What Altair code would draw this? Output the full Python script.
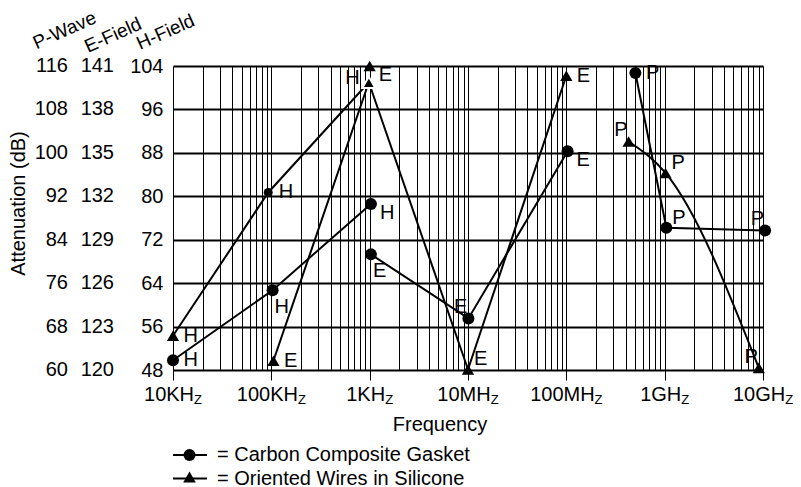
import altair as alt
import pandas as pd

CARBON = "Carbon Composite Gasket"
WIRES = "Oriented Wires in Silicone"

# ---- data (frequency in Hz, attenuation read on the H-Field scale, dB) ----
carbon_h_f = [1.0e4, 1.03e5, 1.03e6]
carbon_h_v = [49.8, 62.7, 78.6]
carbon_e_f = [1.03e6, 1.01e7, 1.03e8]
carbon_e_v = [69.3, 57.5, 88.3]
carbon_p_f = [5.04e8, 1.04e9, 1.05e10]
carbon_p_v = [102.7, 74.2, 73.7]

wires_h_f = [1.0e4, 9.3e4, 9.8e5]
wires_h_v = [54.3, 80.7, 101.0]
wires_e_f = [1.05e5, 9.8e5, 1.0e7, 1.0e8]
wires_e_v = [49.7, 101.0, 48.1, 102.2]
wires_e_peak_f = [1.0e6]
wires_e_peak_v = [104.0]
wires_p_f = [4.3e8, 1.02e9, 9.06e9]
wires_p_v = [90.1, 84.3, 48.4]

# marker kind, label letter and label anchor for every point
carbon_h_mk = ["circle", "circle", "circle"]
carbon_h_lab = ["H", "H", "H"]
carbon_h_anc = ["e", "s", "se"]
carbon_e_mk = ["circle", "circle", "circle"]
carbon_e_lab = ["E", "E", "E"]
carbon_e_anc = ["s", "nw", "se"]
carbon_p_mk = ["circle", "circle", "circle"]
carbon_p_lab = ["P", "P", "P"]
carbon_p_anc = ["e", "ne", "nw"]
wires_h_mk = ["triangle", "dot", "outlined"]
wires_h_lab = ["H", "H", "H"]
wires_h_anc = ["e", "e", "w"]
wires_e_mk = ["triangle", "none", "triangle", "triangle"]
wires_e_lab = ["E", "", "E", "E"]
wires_e_anc = ["e", "", "ne", "e"]
wires_e_peak_mk = ["triangle"]
wires_e_peak_lab = ["E"]
wires_e_peak_anc = ["se"]
wires_p_mk = ["triangle", "triangle", "triangle"]
wires_p_lab = ["P", "P", "P"]
wires_p_anc = ["nw", "ne", "nw"]

# axis tick labels
h_ticks = [48, 56, 64, 72, 80, 88, 96, 104]
e_ticks = [120, 123, 126, 129, 132, 135, 138, 141]
p_ticks = [60, 68, 76, 84, 92, 100, 108, 116]
col_headers = ["P-Wave", "E-Field", "H-Field"]
decades = [1e4, 1e5, 1e6, 1e7, 1e8, 1e9, 1e10]
dec_main = ["10KH", "100KH", "1KH", "10MH", "100MH", "1GH", "10GH"]
dec_sub = "Z"
legend_items = [CARBON, WIRES]

# ---- layout ----
W, H = 590, 304
FONT = "Liberation Sans"
FS = 20
SUBFS = 13
ppd = W / 6.0

series_list = [
    ("cH", CARBON, carbon_h_f, carbon_h_v, carbon_h_mk, carbon_h_lab, carbon_h_anc, True),
    ("cE", CARBON, carbon_e_f, carbon_e_v, carbon_e_mk, carbon_e_lab, carbon_e_anc, True),
    ("cP", CARBON, carbon_p_f, carbon_p_v, carbon_p_mk, carbon_p_lab, carbon_p_anc, True),
    ("wH", WIRES, wires_h_f, wires_h_v, wires_h_mk, wires_h_lab, wires_h_anc, True),
    ("wE", WIRES, wires_e_f, wires_e_v, wires_e_mk, wires_e_lab, wires_e_anc, True),
    ("wEpk", WIRES, wires_e_peak_f, wires_e_peak_v, wires_e_peak_mk, wires_e_peak_lab, wires_e_peak_anc, False),
    ("wP", WIRES, wires_p_f, wires_p_v, wires_p_mk, wires_p_lab, wires_p_anc, True),
]
rows = []
for grp, ser, fs_, vs_, mks, labs, ancs, is_line in series_list:
    for i, (f, v, mk, lab, anc) in enumerate(zip(fs_, vs_, mks, labs, ancs)):
        rows.append(dict(grp=grp, series=ser, f=f, v=v, mk=mk, lab=lab, anc=anc, ord=i, line=is_line))
pts = pd.DataFrame(rows)

xscale = alt.Scale(type="log", domain=[1e4, 1e10])
yscale = alt.Scale(domain=[48, 104], nice=False, zero=False)

grid_vals = []
for k in range(4, 10):
    for m in range(1, 10):
        grid_vals.append(float(f"{m}e{k}"))
grid_vals.append(1e10)

xaxis = alt.Axis(
    values=grid_vals, labels=False, grid=True, gridColor="black", gridWidth=1,
    domain=False, ticks=True, tickSize=10, tickColor="black", tickWidth=1,
    tickOpacity={"condition": {"test": "abs(log(datum.value)/LN10 - round(log(datum.value)/LN10)) < 0.001", "value": 1}, "value": 0},
    title="Frequency", titleX=266.5, titleY=60, titleFontSize=FS, titleFont=FONT,
    titleFontWeight="normal", titleAlign="center", titleBaseline="alphabetic", titleColor="black",
)
yaxis = alt.Axis(
    values=h_ticks, grid=True, gridColor="black", gridWidth=2, domain=False,
    ticks=False, tickSize=0, labelPadding=10, labelFontSize=FS, labelFont=FONT, labelColor="black",
    title="Attenuation (dB)", titleX=-149, titleY=137, titleAngle=270, titleAlign="center",
    titleBaseline="alphabetic", titleFontSize=FS, titleFont=FONT, titleFontWeight="normal", titleColor="black",
)
X = alt.X("f:Q", scale=xscale, axis=xaxis)
Y = alt.Y("v:Q", scale=yscale, axis=yaxis)

base = alt.Chart(pts)

lines = base.transform_filter("datum.line && datum.grp != 'wP'").mark_line(
    color="black", strokeWidth=2).encode(x=X, y=Y, detail="grp:N", order="ord:Q")
curve = base.transform_filter("datum.grp == 'wP'").mark_line(
    color="black", strokeWidth=2, interpolate="monotone").encode(x=X, y=Y, order="ord:Q")

circles = base.transform_filter("datum.mk == 'circle'").mark_point(
    shape="circle", filled=True, size=144, color="black", opacity=1).encode(x=X, y=Y)
dots = base.transform_filter("datum.mk == 'dot'").mark_point(
    shape="circle", filled=True, size=81, color="black", opacity=1).encode(x=X, y=Y)
tris = base.transform_filter("datum.mk == 'triangle'").mark_point(
    shape="triangle-up", filled=True, size=150, color="black", opacity=1).encode(x=X, y=Y)
tri_out = base.transform_filter("datum.mk == 'outlined'").mark_point(
    shape="triangle-up", filled=True, size=170, color="black", stroke="white", strokeWidth=2,
    opacity=1).encode(x=X, y=Y)

anchors = {
    "e": dict(align="left", dx=10.5, dy=0),
    "se": dict(align="left", dx=9, dy=9),
    "s": dict(align="left", dx=2, dy=17),
    "ne": dict(align="left", dx=6, dy=-10),
    "nw": dict(align="right", dx=-1, dy=-11),
    "w": dict(align="right", dx=-9, dy=-4),
}
label_layers = []
for a, kw in anchors.items():
    label_layers.append(
        base.transform_filter(f"datum.anc == '{a}'").mark_text(
            baseline="middle", fontSize=FS, font=FONT, color="black", **kw
        ).encode(x=X, y=Y, text="lab:N")
    )

# extra label columns (E-Field, P-Wave) on the shared scale
cols = pd.DataFrame({"v": h_ticks, "e": [str(t) for t in e_ticks], "p": [str(t) for t in p_ticks]})
e_col = alt.Chart(cols).mark_text(align="right", baseline="middle", fontSize=FS, font=FONT,
                                  color="black").encode(x=alt.value(-59), y=Y, text="e:N")
p_col = alt.Chart(cols).mark_text(align="right", baseline="middle", fontSize=FS, font=FONT,
                                  color="black").encode(x=alt.value(-105), y=Y, text="p:N")

hdr_pos = [(-136.5, -16.5), (-85, -13), (-33, -16)]
hdr_df = pd.DataFrame({"t": col_headers})
headers = []
for i, (hx, hy) in enumerate(hdr_pos):
    headers.append(
        alt.Chart(hdr_df).transform_filter(f"datum.t == '{col_headers[i]}'").mark_text(
            align="left", baseline="alphabetic", angle=336, fontSize=19, font=FONT, color="black"
        ).encode(x=alt.value(hx), y=alt.value(hy), text="t:N")
    )

# x tick labels: main text plus a small lowered "Z"
cw = {"0": .556, "1": .556, "K": .667, "H": .722, "M": .833, "G": .778, "Z": .611}
def tw(s, size):
    return sum(cw.get(c, .556) for c in s) * size

lab_rows = []
for d, m in zip(decades, dec_main):
    wm = tw(m, FS)
    wz = tw(dec_sub, SUBFS)
    left = -(wm + wz) / 2.0
    lab_rows.append(dict(f=d * 10 ** (left / ppd), t=m, kind="main"))
    lab_rows.append(dict(f=d * 10 ** ((left + wm) / ppd), t=dec_sub, kind="sub"))
xl = pd.DataFrame(lab_rows)
xl_main = alt.Chart(xl).transform_filter("datum.kind == 'main'").mark_text(
    align="left", baseline="alphabetic", fontSize=FS, font=FONT, color="black"
).encode(x=X, y=alt.value(H + 31), text="t:N")
xl_sub = alt.Chart(xl).transform_filter("datum.kind == 'sub'").mark_text(
    align="left", baseline="alphabetic", fontSize=SUBFS, font=FONT, color="black"
).encode(x=X, y=alt.value(H + 33.5), text="t:N")

# legend (line + marker sample, then "= name")
leg_df = pd.DataFrame({"series": legend_items})
leg_layers = []
for i, (name, shp, sz) in enumerate([(CARBON, "circle", 144), (WIRES, "triangle-up", 160)]):
    ly = H + 85 + 23.5 * i
    sub = alt.Chart(leg_df).transform_filter(alt.datum.series == name)
    leg_layers.append(sub.mark_rule(color="black", strokeWidth=2).encode(
        x=alt.value(0), x2=alt.value(34), y=alt.value(ly)))
    leg_layers.append(sub.mark_point(shape=shp, filled=True, size=sz, color="black", opacity=1).encode(
        x=alt.value(16.5), y=alt.value(ly - (1.5 if shp != "circle" else 0))))
    leg_layers.append(sub.transform_calculate(lt="'= ' + datum.series").mark_text(
        align="left", baseline="middle", fontSize=FS, font=FONT, color="black").encode(
        x=alt.value(44), y=alt.value(ly), text="lt:N"))

chart = alt.layer(
    lines, curve, circles, dots, tris, tri_out, *label_layers,
    e_col, p_col, *headers, xl_main, xl_sub, *leg_layers,
).properties(
    width=W, height=H,
    autosize=alt.AutoSizeParams(type="none"),
    padding={"left": 165, "top": 58, "right": 30, "bottom": 140},
).configure(font=FONT).configure_view(stroke=None)

chart.save("out.html", embed_options={"renderer": "svg", "actions": False})
